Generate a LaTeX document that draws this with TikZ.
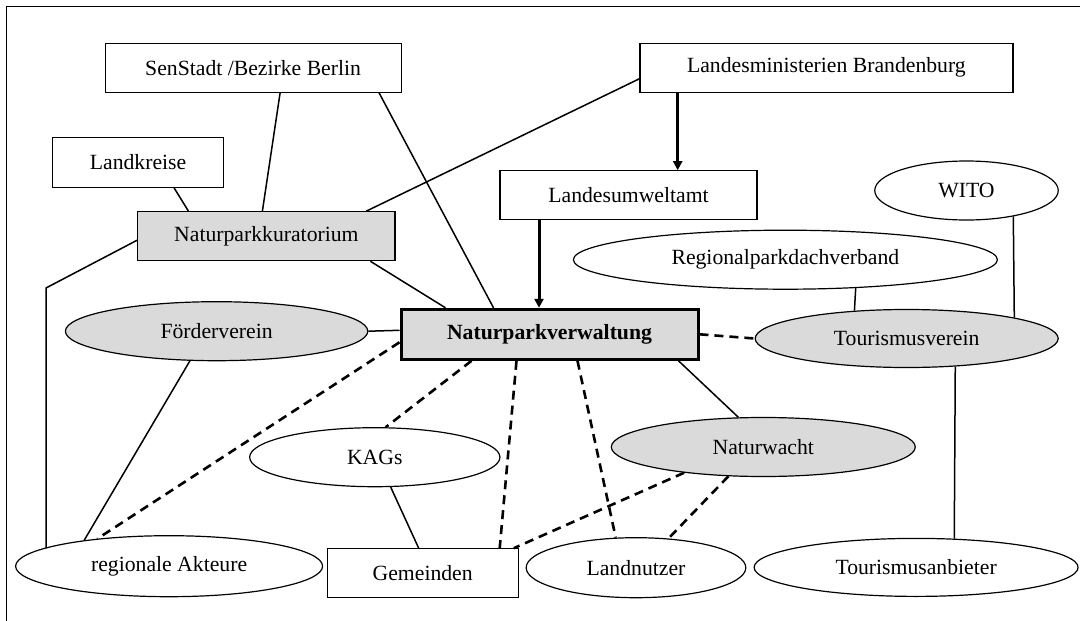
\documentclass[tikz,border=0pt]{standalone}
\usepackage{fontspec}
\setmainfont{Liberation Serif}
\usetikzlibrary{shapes.geometric,arrows.meta}
\definecolor{npgrau}{RGB}{218,218,218}
\tikzset{
	box/.style={draw,line width=1.2pt,inner sep=0pt,minimum height=49pt},
	oval/.style={draw,ellipse,line width=1.2pt,inner sep=0pt,minimum height=59pt},
	link/.style={line width=1.5pt},
	gestr/.style={line width=2.6pt,dash pattern=on 9pt off 6pt},
	pfeil/.style={line width=3pt,-{Triangle[length=9pt,width=9pt]}}
}
\begin{document}
\begin{tikzpicture}[x=1pt,y=-1pt,font=\fontsize{21.7}{26}\selectfont]
		\useasboundingbox (0,0) rectangle (1080,621);
		\draw[line width=1.3pt] (1080,6.7) -- (6.2,6.7) -- (6.2,621);
		\node[box,minimum width=296pt] (sen) at (253.1,67.8) {SenStadt /Bezirke Berlin};
		\node[box,minimum width=373pt] (lm) at (826.4,67.8) {Landesministerien Brandenburg};
		\node[box,minimum width=171.5pt,minimum height=50pt] (lk) at (138.1,162.3) {Landkreise};
		\node[box,fill=npgrau,minimum width=257.3pt] (kur) at (266.4,236.2) {Naturparkkuratorium};
		\node[box,minimum width=257pt] (lua) at (628.5,195.3) {Landesumweltamt};
		\node[oval,minimum width=183.5pt] (wito) at (966.5,190.5) {WITO};
		\node[oval,minimum width=424pt] (rpd) at (785.4,259.7) {Regionalparkdachverband};
		\node[box,fill=npgrau,line width=3pt,minimum width=297pt,minimum height=50pt] (npv) at (549.5,334.3) {\textbf{Naturparkverwaltung}};
		\node[oval,fill=npgrau,minimum width=302.4pt] (fv) at (216.6,331.2) {Förderverein};
		\node[oval,fill=npgrau,minimum width=303pt,minimum height=58pt] (tv) at (906.7,338.5) {Tourismusverein};
		\node[oval,minimum width=250.3pt] (kags) at (374.8,457.2) {KAGs};
		\node[oval,fill=npgrau,minimum width=304pt] (nw) at (763.3,447) {Naturwacht};
		\node[oval,minimum width=307pt,minimum height=61pt] (ra) at (169.1,566.2) {regionale Akteure};
		\node[box,minimum width=191pt] (gem) at (422.7,573.3) {Gemeinden};
		\node[oval,minimum width=219.7pt,minimum height=60pt] (lu) at (636,567.7) {Landnutzer};
		\node[oval,minimum width=324pt,minimum height=58pt] (ta) at (916.1,567.4) {Tourismusanbieter};
		\coordinate (knick) at (46,288);
		\draw[link] ([xshift=27pt]sen.south) -- ([xshift=-4pt]kur.north);
		\draw[link] ([xshift=126pt]sen.south) -- ([xshift=-56pt]npv.north);
		\draw[link] ([xshift=36pt]lk.south) -- ([xshift=-78pt]kur.north);
		\draw[link] ([yshift=-11pt]lm.west) -- ([xshift=100pt]kur.north);
		\draw[link] ([xshift=104pt]kur.south) -- ([xshift=-104pt]npv.north);
		\draw[link] ([yshift=-4pt]kur.west) -- (knick) -- (knick |- ra.172);
		\draw[pfeil] ([xshift=-148.7pt]lm.south) -- ([xshift=49.2pt]lua.north);
		\draw[pfeil] ([xshift=-89.5pt]lua.south) -- ([xshift=-10.5pt]npv.north);
		\draw[link] (rpd.-22) -- (tv.152);
		\draw[link] (wito.-29) -- (tv.11);
		\draw[link] (tv.-30) -- (ta.37);
		\draw[link] (fv.east) -- ([yshift=4pt]npv.west);
		\draw[link] (fv.228) -- (ra.163);
		\draw[link] ([xshift=129pt]npv.south) -- (nw.130);
		\draw[link] (kags.-62) -- ([xshift=-4pt]gem.north);
		\draw[gestr] (npv.east) -- (tv.west);
		\draw[gestr] ([yshift=-8pt]npv.west) -- (ra.159);
		\draw[gestr] ([xshift=-78pt]npv.south) -- (kags.70);
		\draw[gestr] ([xshift=-33pt]npv.south) -- ([xshift=77pt]gem.north);
		\draw[gestr] ([xshift=28pt]npv.south) -- (lu.124);
		\draw[gestr] (nw.198) -- ([xshift=-5pt]gem.north east);
		\draw[gestr] (nw.220) -- (lu.42);
	\end{tikzpicture}
\end{document}
